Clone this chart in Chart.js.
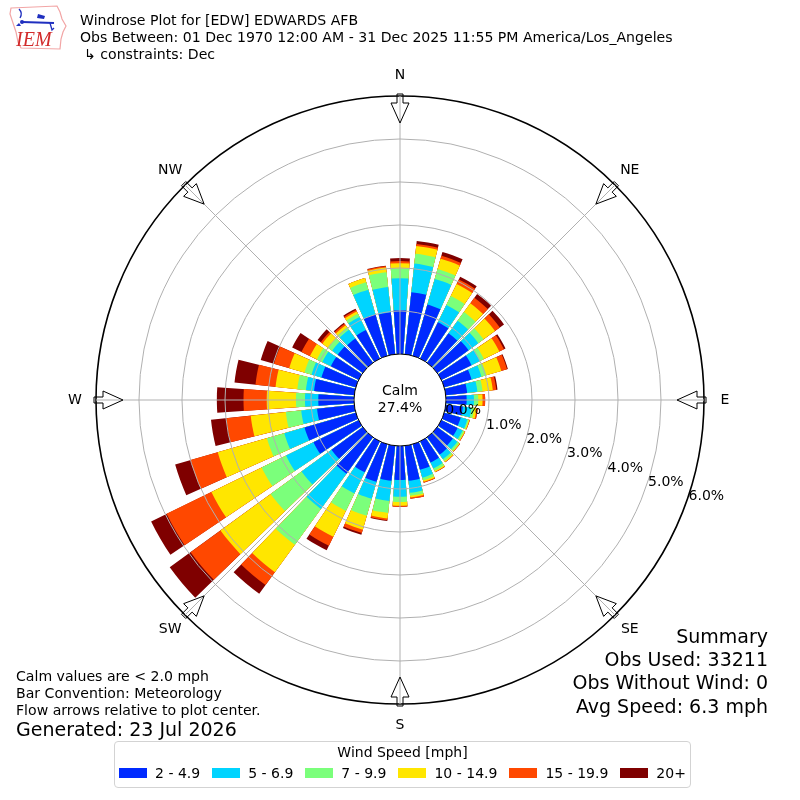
<!DOCTYPE html>
<html>
<head>
<meta charset="utf-8">
<title>Windrose Plot for [EDW] EDWARDS AFB</title>
<script src="https://cdn.jsdelivr.net/npm/chart.js@4.4.1/dist/chart.umd.min.js"></script>
<style>
    body { margin: 0; background: #fff; }
    #wrap { position: relative; width: 800px; height: 800px; overflow: hidden;
            font-family: "DejaVu Sans", sans-serif; color: #000; }
    #wrap canvas { position: absolute; left: 0; top: 0; }
    .t { position: absolute; white-space: nowrap; font-size: 14.1px; line-height: 16px; }
    .big { font-size: 19px; line-height: 22px; }
    .summary { right: 32px; text-align: right; }
    #legend { position: absolute; left: 114px; top: 741px; width: 577px; height: 47px;
              box-sizing: border-box; border: 1px solid #d3d3d3; border-radius: 4px; background: #fff; }
    #legend .ttl { position: absolute; left: 0; width: 100%; top: 2px; text-align: center;
                   font-size: 14px; line-height: 16px; }
    #legend .row { position: absolute; left: 0; width: 100%; top: 23px; display: flex;
                   justify-content: center; font-size: 14px; line-height: 16px; }
    #legend .sw { width: 28px; height: 10px; margin: 3px 8px 0 0; }
    #legend .lb { margin-right: 12px; }
    #legend .lb:last-child { margin-right: 0; }
    #logo { position: absolute; left: 2px; top: 1px; }
</style>
</head>
<body>
<div id="wrap">
    <canvas id="rose" width="800" height="800"></canvas>

    <svg id="logo" width="68" height="52" viewBox="0 0 68 52">
        <polygon points="9,7 55,5 58,11 60,18 64,25 61,31 59,38 58,48 19,47 16,41 14,31 11,22 8,13"
                 fill="none" stroke="#f2a5a5" stroke-width="1.2"/>
        <path d="M17 8 q4 4 1 9" fill="none" stroke="#1f2fbf" stroke-width="1.3"/>
        <circle cx="20" cy="21" r="2" fill="#1f2fbf"/>
        <line x1="20" y1="21" x2="52" y2="22" stroke="#1f2fbf" stroke-width="2.2"/>
        <path d="M36 13 l7 2 l-1 3 l-7 -1 z" fill="#1f2fbf"/>
        <path d="M48 22 l2 7 l2 -2" fill="none" stroke="#1f2fbf" stroke-width="1.3"/>
        <path d="M14 25 l3 -3 l2 3 z" fill="#1f2fbf"/>
        <text x="14" y="45" font-family="Liberation Serif, serif" font-style="italic"
              font-size="20" fill="#d22b2b">IEM</text>
    </svg>

    <div class="t" style="left:80px; top:12px">Windrose Plot for [EDW] EDWARDS AFB</div>
    <div class="t" style="left:80px; top:29px">Obs Between: 01 Dec 1970 12:00 AM - 31 Dec 2025 11:55 PM America/Los_Angeles</div>
    <div class="t" style="left:84px; top:46px">↳ constraints: Dec</div>

    <div class="t" style="left:16px; top:668px">Calm values are &lt; 2.0 mph</div>
    <div class="t" style="left:16px; top:685px">Bar Convention: Meteorology</div>
    <div class="t" style="left:16px; top:702px">Flow arrows relative to plot center.</div>
    <div class="t big" style="left:16px; top:718px">Generated: 23 Jul 2026</div>

    <div class="t big summary" style="top:625px">Summary</div>
    <div class="t big summary" style="top:648px">Obs Used: 33211</div>
    <div class="t big summary" style="top:671px">Obs Without Wind: 0</div>
    <div class="t big summary" style="top:695px">Avg Speed: 6.3 mph</div>

    <div id="legend">
        <div class="ttl">Wind Speed [mph]</div>
        <div class="row" id="legendRow"></div>
    </div>
</div>

<script>
// Wind directions (degrees, meteorological) and speed bins
const directions = [0, 10, 20, 30, 40, 50, 60, 70, 80, 90, 100, 110, 120, 130, 140, 150, 160, 170,
                    180, 190, 200, 210, 220, 230, 240, 250, 260, 270, 280, 290, 300, 310, 320, 330, 340, 350];
const speedBins = ['2 - 4.9', '5 - 6.9', '7 - 9.9', '10 - 14.9', '15 - 19.9', '20+'];
const binColors = ['#002aff', '#00d4ff', '#7bff7b', '#ffe600', '#ff4800', '#7f0000'];

// Percent of observations per direction, one array per speed bin
const pct2to5 = [1.02, 1.45, 1.24, 0.94, 0.85, 0.90, 0.78, 0.66, 0.50, 0.48, 0.40, 0.40,
                 0.42, 0.45, 0.50, 0.55, 0.62, 0.82, 0.79, 0.82, 0.91, 0.80, 1.05, 0.90,
                 1.17, 1.24, 0.87, 0.83, 0.94, 0.83, 0.72, 0.72, 0.70, 0.74, 1.00, 0.98];
const pct5to7 = [0.74, 0.67, 0.62, 0.45, 0.36, 0.28, 0.22, 0.24, 0.24, 0.17, 0.20, 0.16,
                 0.13, 0.13, 0.13, 0.15, 0.19, 0.28, 0.39, 0.47, 0.41, 0.55, 1.01, 0.86,
                 0.71, 0.49, 0.37, 0.31, 0.19, 0.24, 0.22, 0.16, 0.25, 0.34, 0.60, 0.59];
const pct7to10 = [0.23, 0.23, 0.24, 0.23, 0.25, 0.15, 0.10, 0.12, 0.12, 0.10, 0.06, 0.03,
                  0.04, 0.05, 0.05, 0.06, 0.06, 0.07, 0.12, 0.28, 0.41, 0.45, 1.03, 0.89,
                  0.63, 0.42, 0.36, 0.21, 0.20, 0.17, 0.14, 0.11, 0.07, 0.08, 0.18, 0.35];
const pct10to15 = [0.12, 0.18, 0.25, 0.31, 0.25, 0.33, 0.40, 0.36, 0.24, 0.10, 0.06, 0.02,
                   0.02, 0.02, 0.03, 0.03, 0.04, 0.04, 0.09, 0.13, 0.34, 0.67, 0.79, 1.44,
                   1.30, 1.19, 0.82, 0.68, 0.51, 0.37, 0.18, 0.17, 0.06, 0.06, 0.10, 0.11];
const pct15to20 = [0.05, 0.05, 0.07, 0.12, 0.16, 0.14, 0.12, 0.14, 0.08, 0.06, 0.03, 0.01,
                   0.01, 0.01, 0.01, 0.01, 0.02, 0.03, 0.02, 0.04, 0.08, 0.23, 0.37, 0.86,
                   1.16, 0.66, 0.57, 0.54, 0.47, 0.37, 0.22, 0.05, 0.04, 0.04, 0.00, 0.03];
const pct20up = [0.07, 0.07, 0.09, 0.07, 0.11, 0.12, 0.04, 0.02, 0.03, 0.00, 0.00, 0.00,
                 0.00, 0.00, 0.00, 0.00, 0.00, 0.00, 0.00, 0.02, 0.04, 0.12, 0.25, 0.60,
                 0.40, 0.37, 0.36, 0.62, 0.49, 0.32, 0.24, 0.09, 0.03, 0.03, 0.00, 0.01];

const ringTicks = [0, 1, 2, 3, 4, 5, 6];
const compassLabels = ['N', 'NE', 'E', 'SE', 'S', 'SW', 'W', 'NW'];
const calmPct = 27.4;

// layout of the rose
const calmRoom = 1.07;     // radial room (in % units) kept for the calm circle
const barDeg = 8;          // each 10 degree sector: 8 deg bar + 2 deg gap
const gapDeg = 2;
const ringLabelAngle = 109.5;
const FONT = '14px "DejaVu Sans", sans-serif';

// stack the bins: each dataset is drawn from the center out to its cumulative total,
// the smaller totals are drawn on top of the larger ones
const binSeries = [pct2to5, pct5to7, pct7to10, pct10to15, pct15to20, pct20up];
const stacked = binSeries.map((s, k) =>
    directions.map((d, i) => binSeries.slice(0, k + 1).reduce((sum, b) => sum + b[i], 0)));

// every direction is followed by an empty gap slot
const labels = directions.flatMap(d => [d + '°', '']);

const datasets = stacked.map((vals, k) => ({
    label: speedBins[k],
    data: vals.flatMap(v => [v, 0]),
    backgroundColor: ctx => ctx.dataIndex % 2 ? 'rgba(0,0,0,0)' : binColors[k],
    borderWidth: 0,
    angle: ctx => ctx.dataIndex % 2 ? gapDeg : barDeg
}));

function polar(scale, deg, dist, side) {
    const a = deg * Math.PI / 180;
    return {
        x: scale.xCenter + dist * Math.sin(a) + (side || 0) * Math.cos(a),
        y: scale.yCenter - dist * Math.cos(a) + (side || 0) * Math.sin(a)
    };
}

const roseDecor = {
    id: 'roseDecor',
    afterDatasetsDraw(chart) {
        // white calm circle over the bar roots
        const r = chart.scales.r, ctx = chart.ctx;
        ctx.save();
        ctx.beginPath();
        ctx.arc(r.xCenter, r.yCenter, r.getDistanceFromCenterForValue(0), 0, Math.PI * 2);
        ctx.fillStyle = '#fff';
        ctx.fill();
        ctx.restore();
    },
    afterDraw(chart) {
        const r = chart.scales.r, ctx = chart.ctx;
        const r0 = r.getDistanceFromCenterForValue(0);
        const R = r.getDistanceFromCenterForValue(ringTicks[ringTicks.length - 1]);
        ctx.save();

        // spokes every 45 degrees
        ctx.strokeStyle = '#b0b0b0';
        ctx.lineWidth = 1;
        compassLabels.forEach((lab, i) => {
            const p1 = polar(r, i * 45, r0), p2 = polar(r, i * 45, R);
            ctx.beginPath();
            ctx.moveTo(p1.x, p1.y);
            ctx.lineTo(p2.x, p2.y);
            ctx.stroke();
        });

        // hollow flow arrows pointing to the center, and compass labels
        ctx.strokeStyle = '#000';
        ctx.fillStyle = '#000';
        ctx.font = FONT;
        ctx.textAlign = 'center';
        ctx.textBaseline = 'middle';
        compassLabels.forEach((lab, i) => {
            const deg = i * 45;
            const pts = [[R + 2, -3], [R - 7, -3], [R - 7, -9], [R - 27, 0],
                         [R - 7, 9], [R - 7, 3], [R + 2, 3]].map(p => polar(r, deg, p[0], p[1]));
            ctx.beginPath();
            pts.forEach((p, j) => j ? ctx.lineTo(p.x, p.y) : ctx.moveTo(p.x, p.y));
            ctx.closePath();
            ctx.stroke();
            const lp = polar(r, deg, R + 21);
            ctx.fillText(lab, lp.x, lp.y);
        });

        // ring labels
        ctx.textAlign = 'left';
        ctx.textBaseline = 'alphabetic';
        ringTicks.forEach(v => {
            const p = polar(r, ringLabelAngle, r.getDistanceFromCenterForValue(v));
            ctx.fillText(v.toFixed(1) + '%', p.x + 2, p.y - 1);
        });

        // calm text
        ctx.textAlign = 'center';
        ctx.textBaseline = 'middle';
        ctx.fillText('Calm', r.xCenter, r.yCenter - 9);
        ctx.fillText(calmPct.toFixed(1) + '%', r.xCenter, r.yCenter + 8);
        ctx.restore();
    }
};

new Chart(document.getElementById('rose'), {
    type: 'polarArea',
    data: { labels: labels, datasets: datasets },
    options: {
        responsive: false,
        animation: false,
        events: [],
        layout: { padding: 96 },
        plugins: {
            legend: { display: false },
            tooltip: { enabled: false }
        },
        scales: {
            r: {
                min: -calmRoom,
                max: ringTicks[ringTicks.length - 1],
                startAngle: -barDeg / 2,
                afterBuildTicks: s => { s.ticks = ringTicks.map(v => ({ value: v })); },
                ticks: { display: false },
                pointLabels: { display: false },
                angleLines: { display: false },
                grid: {
                    z: 1,
                    circular: true,
                    color: c => (c.tick && (c.tick.value === 0 || c.tick.value === 6)) ? '#000' : '#b0b0b0',
                    lineWidth: c => (c.tick && c.tick.value === 6) ? 1.6 : 1
                }
            }
        }
    },
    plugins: [roseDecor]
});

// legend
const row = document.getElementById('legendRow');
speedBins.forEach((name, k) => {
    const sw = document.createElement('span');
    sw.className = 'sw';
    sw.style.background = binColors[k];
    const lb = document.createElement('span');
    lb.className = 'lb';
    lb.textContent = name;
    row.appendChild(sw);
    row.appendChild(lb);
});
</script>
</body>
</html>
